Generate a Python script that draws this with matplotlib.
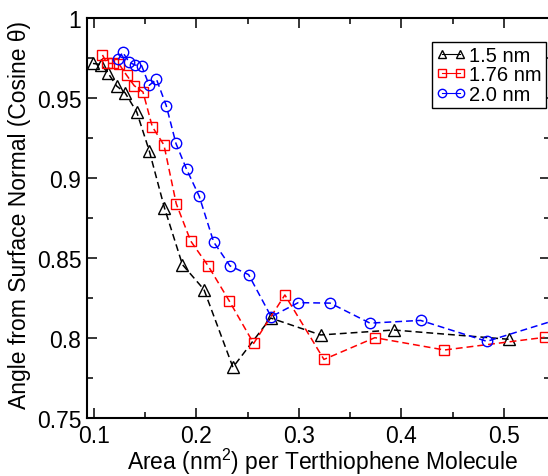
import matplotlib
matplotlib.use("Agg")
import matplotlib.pyplot as plt
from matplotlib.ticker import MultipleLocator, FuncFormatter

plt.rcParams['font.family'] = ['Liberation Sans', 'DejaVu Sans']
plt.rcParams['mathtext.fontset'] = 'custom'
plt.rcParams['mathtext.rm'] = 'Liberation Sans'

# Area per molecule (nm^2) and mean cos(theta) for each chain spacing
area_15 = [0.099, 0.1068, 0.1137, 0.1221, 0.1302, 0.1417, 0.154, 0.1688,
           0.1863, 0.2073, 0.2356, 0.2724, 0.3212, 0.3924, 0.5046]
cos_15 = [0.9716, 0.9709, 0.9656, 0.9575, 0.9534, 0.9413, 0.9169, 0.8813,
          0.8459, 0.8303, 0.7817, 0.8125, 0.8019, 0.805, 0.7992]

area_176 = [0.1083, 0.1127, 0.1185, 0.1244, 0.1319, 0.1393, 0.1478, 0.1569,
            0.1683, 0.1803, 0.1944, 0.2115, 0.2319, 0.2558, 0.2863, 0.3244,
            0.3741, 0.4420, 0.5397]
cos_176 = [0.9769, 0.9716, 0.9716, 0.9713, 0.9642, 0.9577, 0.9538, 0.9321,
           0.9206, 0.8839, 0.8606, 0.845, 0.8233, 0.7966, 0.8269, 0.7866,
           0.8002, 0.7925, 0.8004]

area_20 = [0.1237, 0.1281, 0.1341, 0.14, 0.1465, 0.1539, 0.161, 0.1705,
           0.18, 0.1904, 0.2027, 0.2168, 0.2327, 0.2509, 0.2729, 0.2993,
           0.3305, 0.3693, 0.4187, 0.4834, 0.58]
cos_20 = [0.9741, 0.9786, 0.9725, 0.9706, 0.9702, 0.9579, 0.9617, 0.9453,
          0.9216, 0.9054, 0.8886, 0.86, 0.8451, 0.8396, 0.8133, 0.8221,
          0.8218, 0.8093, 0.811, 0.7979, 0.8171]

series = [
    (area_15, cos_15, 'k', '^', '1.5 nm'),
    (area_176, cos_176, 'red', 's', '1.76 nm'),
    (area_20, cos_20, 'blue', 'o', '2.0 nm'),
]

fig = plt.figure(figsize=(5.48, 4.77), dpi=100)
W, H = 548, 477
left, right, top, bottom = 87, 550, 19, 419
ax = fig.add_axes([left / W, 1 - bottom / H, (right - left) / W, (bottom - top) / H])

msize = {'^': 8.0, 's': 6.5, 'o': 7.5}
for x, y, c, m, lab in series:
    ax.plot(x, y, color=c, ls=(0, (4.5, 2.6)), lw=1.1, marker=m, ms=msize[m],
            mfc='none', mec=c, mew=1.0, label=lab)

ax.set_xlim(0.0932, 0.545)
ax.set_ylim(0.75, 1.0)
ax.xaxis.set_major_locator(MultipleLocator(0.1))
ax.xaxis.set_minor_locator(MultipleLocator(0.05))
ax.yaxis.set_major_locator(MultipleLocator(0.05))
ax.yaxis.set_minor_locator(MultipleLocator(0.025))
ax.xaxis.set_major_formatter(FuncFormatter(lambda v, p: f"{v:g}"))
ax.yaxis.set_major_formatter(FuncFormatter(lambda v, p: f"{round(v, 3):g}"))
ax.tick_params(which='both', direction='in', top=True, right=True, width=1.1)
ax.tick_params(which='major', length=7, labelsize=16.5, pad=4)
ax.tick_params(which='minor', length=4)
for s in ax.spines.values():
    s.set_linewidth(1.5)

xl = ax.set_xlabel('Area (nm$^\\mathregular{2}$) per Terthiophene Molecule', fontsize=16.5)
xl.set_va('baseline')
ax.xaxis.set_label_coords(0.5076, -0.128)
yl = ax.set_ylabel('Angle from Surface Normal (Cosine θ)', fontsize=16.5)
yl.set_va('center')
ax.yaxis.set_label_coords(-0.145, 0.51)

leg = ax.legend(loc='upper left', bbox_to_anchor=(0.745, 0.94), fontsize=14.5,
                numpoints=2, handlelength=1.5, handletextpad=0.15,
                borderpad=0.2, labelspacing=0.02, borderaxespad=0,
                fancybox=False, framealpha=1, edgecolor='k', markerscale=0.8)
leg.get_frame().set_linewidth(1.0)
for h in leg.get_lines():
    h.set_linestyle('-')
    h.set_linewidth(0.8)

fig.savefig('out.png', dpi=100)
